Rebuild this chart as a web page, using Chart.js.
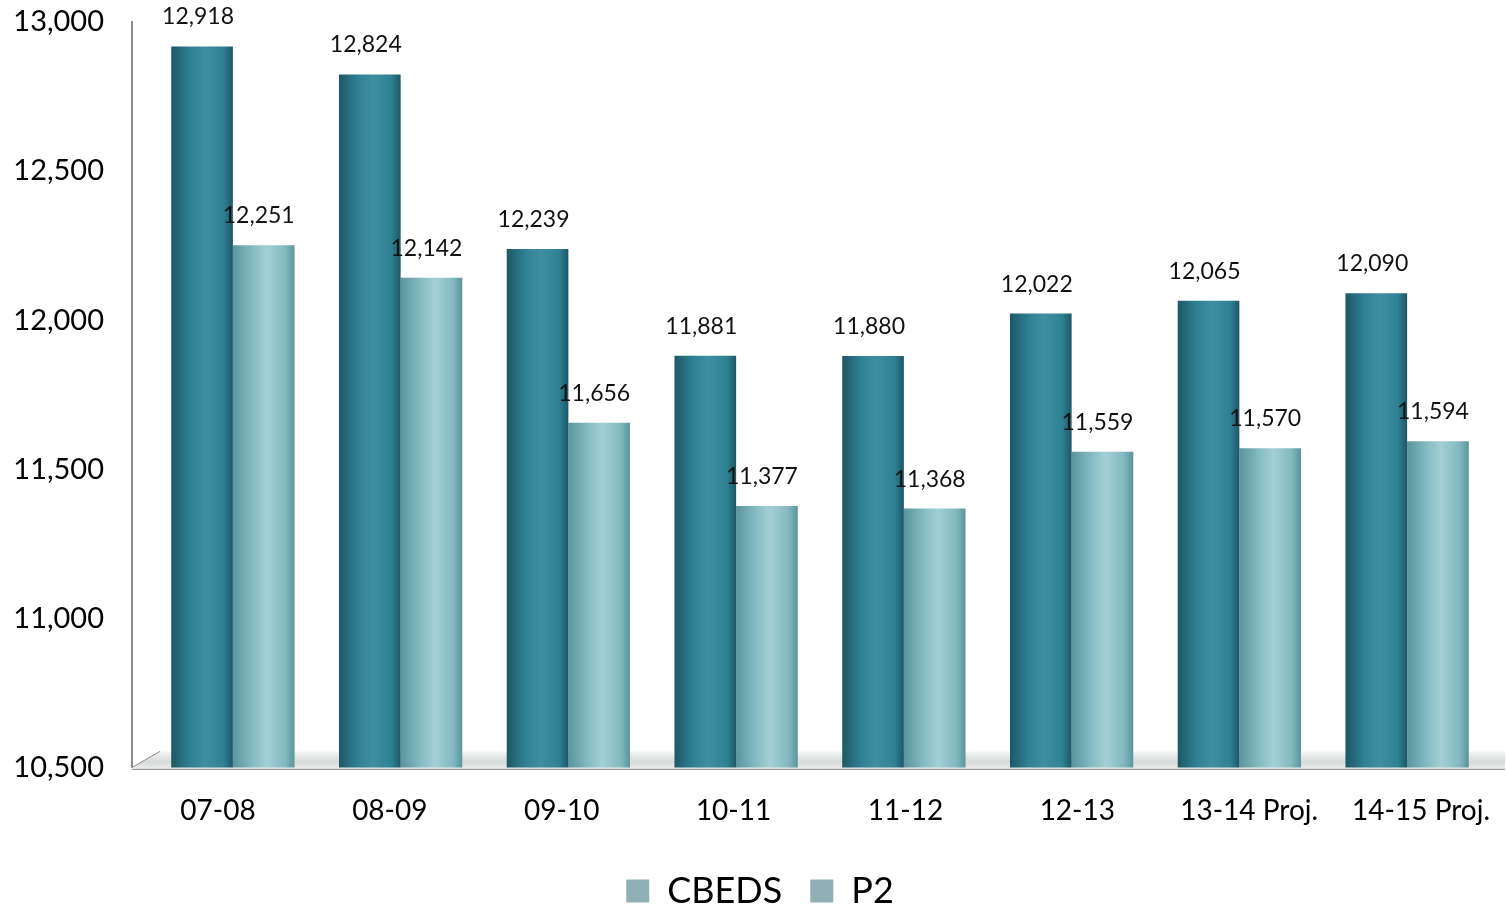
<!DOCTYPE html>
<html>
<head>
<meta charset="utf-8">
<script src="https://cdn.jsdelivr.net/npm/chart.js@4"></script>
<style>
  html, body { margin: 0; padding: 0; background: #fff; }
  #wrap { width: 1507px; height: 909px; }
</style>
</head>
<body>
<div id="wrap"><canvas id="enrollChart" width="1507" height="909"></canvas></div>
<script>
// Chart data
const years = ['07-08', '08-09', '09-10', '10-11', '11-12', '12-13', '13-14 Proj.', '14-15 Proj.'];
const cbeds = [12918, 12824, 12239, 11881, 11880, 12022, 12065, 12090];
const p2 = [12251, 12142, 11656, 11377, 11368, 11559, 11570, 11594];
const yTicks = [10500, 11000, 11500, 12000, 12500, 13000];

const FONT = 'Lato, "Open Sans", sans-serif';
const CAT_PCT = 0.735;

// soft cylinder shading for each bar
function barFill(ctx, dark, mid, light) {
  const chart = ctx.chart;
  const xs = chart.scales.bars;
  if (!xs || ctx.dataIndex === undefined) return mid;
  const cw = xs.width / years.length;
  const bw = cw * CAT_PCT / 2;
  const xc = xs.getPixelForValue(ctx.dataIndex);
  const left = ctx.datasetIndex === 0 ? xc - bw : xc;
  const g = chart.ctx.createLinearGradient(left, 0, left + bw, 0);
  g.addColorStop(0, dark);
  g.addColorStop(0.3, mid);
  g.addColorStop(0.55, light);
  g.addColorStop(0.85, mid);
  g.addColorStop(1, dark);
  return g;
}

// the bars sit a bit inside the labelled range (3D look), so squeeze the bar axis
const squeezeBars = {
  id: 'squeezeBars',
  afterLayout(chart) {
    const s = chart.scales.bars;
    const a = chart.chartArea;
    s.left = a.left + 17;
    s.right = a.right - 16;
    s.width = s.right - s.left;
    s.configure();
  }
};

// legend keeps its wide item spacing but a shorter box
const legendFit = {
  id: 'legendFit',
  beforeInit(chart) {
    const lg = chart.legend;
    const origFit = lg.fit;
    lg.fit = function () {
      origFit.call(this);
      this.height -= 10;
    };
  }
};

// grey floor under the bars
const floorPlugin = {
  id: 'floor',
  beforeDatasetsDraw(chart) {
    const { ctx, chartArea } = chart;
    const b = chartArea.bottom;
    ctx.save();
    const g = ctx.createLinearGradient(0, b - 16, 0, b + 2);
    g.addColorStop(0, '#f4f4f4');
    g.addColorStop(0.6, '#d6dada');
    g.addColorStop(1, '#eeeeee');
    ctx.fillStyle = g;
    ctx.beginPath();
    ctx.moveTo(chartArea.left, b);
    ctx.lineTo(chartArea.left + 28, b - 16);
    ctx.lineTo(chartArea.right - 2, b - 16);
    ctx.lineTo(chartArea.right - 2, b + 2);
    ctx.lineTo(chartArea.left, b + 2);
    ctx.closePath();
    ctx.fill();
    ctx.strokeStyle = '#8a8a8a';
    ctx.lineWidth = 1;
    ctx.beginPath();
    ctx.moveTo(chartArea.left, b);
    ctx.lineTo(chartArea.left + 28, b - 16);
    ctx.moveTo(chartArea.left, b + 2);
    ctx.lineTo(chartArea.right - 2, b + 2);
    ctx.stroke();
    ctx.restore();
  }
};

// value labels above each bar
const valueLabels = {
  id: 'valueLabels',
  afterDatasetsDraw(chart) {
    const ctx = chart.ctx;
    ctx.save();
    ctx.font = '23px ' + FONT;
    ctx.fillStyle = '#111';
    ctx.textAlign = 'center';
    ctx.textBaseline = 'bottom';
    chart.data.datasets.forEach((ds, di) => {
      chart.getDatasetMeta(di).data.forEach((bar, i) => {
        const txt = ds.data[i].toLocaleString('en-US');
        const dx = di === 1 ? -5 : -4;
        ctx.fillText(txt, bar.x + dx, bar.y - 18);
      });
    });
    ctx.restore();
  }
};

const ctx = document.getElementById('enrollChart');
new Chart(ctx, {
  type: 'bar',
  data: {
    labels: years,
    datasets: [
      {
        label: 'CBEDS',
        data: cbeds,
        xAxisID: 'bars',
        backgroundColor: (c) => barFill(c, '#1d5767', '#2f8093', '#3f8fa1'),
        borderWidth: 0,
        categoryPercentage: CAT_PCT,
        barPercentage: 1.0,
      },
      {
        label: 'P2',
        data: p2,
        xAxisID: 'bars',
        backgroundColor: (c) => barFill(c, '#5b949c', '#82b9c0', '#a3d0d4'),
        borderWidth: 0,
        categoryPercentage: CAT_PCT,
        barPercentage: 1.0,
      },
    ],
  },
  options: {
    responsive: false,
    animation: false,
    layout: { padding: { left: 13, right: 0, top: 0, bottom: 0 } },
    scales: {
      x: {
        grid: { display: false, drawTicks: false },
        border: { display: false },
        ticks: {
          color: '#000',
          font: { family: FONT, size: 28 },
          padding: 27,
          maxRotation: 0,
        },
        afterFit: (axis) => {
          axis.paddingLeft = 0;
          axis.paddingRight = 0;
          axis.height -= 10;
        },
      },
      bars: {
        type: 'category',
        position: 'bottom',
        display: false,
        grid: { display: false },
      },
      y: {
        min: 10500,
        max: 13000,
        afterBuildTicks: (axis) => { axis.ticks = yTicks.map((v) => ({ value: v })); },
        afterFit: (axis) => {
          axis.width = 119;
          axis.paddingTop = 22;
          axis.paddingBottom = 0;
        },
        grid: { display: false, drawTicks: false },
        border: { display: true, color: '#8a8a8a', width: 2 },
        ticks: {
          color: '#000',
          font: { family: FONT, size: 29 },
          padding: 28,
          callback: (v) => v.toLocaleString('en-US'),
        },
      },
    },
    plugins: {
      tooltip: { enabled: false },
      legend: {
        position: 'bottom',
        labels: {
          color: '#000',
          font: { family: FONT, size: 36 },
          boxWidth: 23,
          boxHeight: 23,
          padding: 28,
          generateLabels: (chart) => chart.data.datasets.map((ds, i) => ({
            text: ds.label,
            fillStyle: '#8fb0b5',
            strokeStyle: '#8fb0b5',
            lineWidth: 0,
            datasetIndex: i,
          })),
        },
      },
    },
  },
  plugins: [legendFit, squeezeBars, floorPlugin, valueLabels],
});
</script>
</body>
</html>
